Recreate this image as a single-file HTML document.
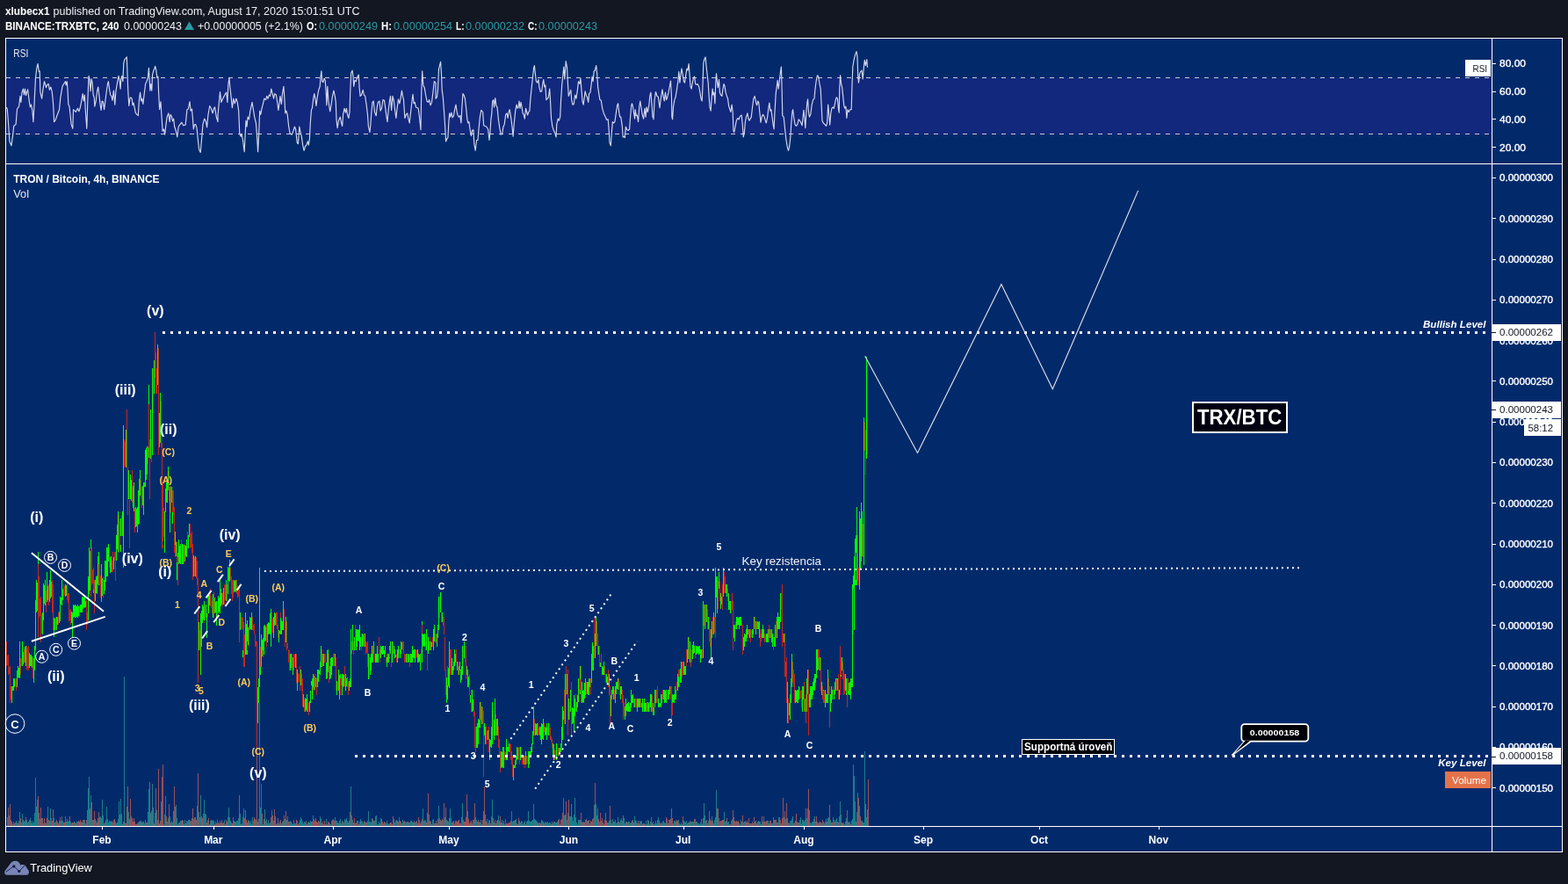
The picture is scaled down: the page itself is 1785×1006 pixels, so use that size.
<!DOCTYPE html>
<html lang="en"><head><meta charset="utf-8"><title>TRX/BTC chart</title>
<style>
html,body{margin:0;padding:0;background:#131722;}
body{width:1785px;height:1006px;overflow:hidden;position:relative;}
svg{position:absolute;left:0;top:0;display:block;font-family:'Liberation Sans', Arial, sans-serif;}
text{white-space:pre;}
</style></head><body>
<svg width="1785" height="1006" viewBox="0 0 1785 1006">
<rect x="0" y="0" width="1785" height="1006" fill="#131722"/>
<rect x="6" y="43" width="1773" height="927" fill="#022a6b"/>
<rect x="7" y="89" width="1691" height="64" fill="#12287c"/>
<path d="M8.5 930V940M10.5 928V940M14.5 938V940M17.5 936V940M18.5 934V940M19.5 936V940M21.5 934V940M22.5 924V940M24.5 936V940M25.5 926V940M27.5 935V940M28.5 934V940M30.5 933V940M31.5 936V940M32.5 935V940M33.5 933V940M34.5 931V940M36.5 937V940M37.5 934V940M38.5 936V940M39.5 925V940M40.5 885V940M41.5 918V940M42.5 910V940M44.5 925V940M45.5 932V940M47.5 931V940M49.5 937V940M51.5 936V940M52.5 937V940M54.5 918V940M56.5 934V940M57.5 920V940M58.5 931V940M61.5 931V940M62.5 936V940M63.5 935V940M65.5 935V940M69.5 934V940M70.5 929V940M71.5 934V940M75.5 935V940M77.5 935V940M78.5 934V940M80.5 935V940M81.5 937V940M83.5 936V940M84.5 935V940M87.5 935V940M88.5 935V940M93.5 936V940M96.5 933V940M97.5 937V940M100.5 897V940M101.5 884V940M103.5 905V940M105.5 933V940M108.5 932V940M109.5 934V940M114.5 929V940M115.5 931V940M116.5 910V940M117.5 928V940M118.5 937V940M120.5 933V940M121.5 918V940M122.5 932V940M123.5 936V940M124.5 934V940M125.5 934V940M126.5 935V940M128.5 936V940M129.5 933V940M131.5 935V940M132.5 937V940M134.5 932V940M135.5 912V940M136.5 927V940M137.5 909V940M138.5 926V940M139.5 938V940M141.5 770V940M146.5 924V940M149.5 929V940M154.5 938V940M157.5 936V940M159.5 934V940M162.5 935V940M163.5 935V940M164.5 937V940M165.5 933V940M167.5 936V940M168.5 924V940M169.5 898V940M171.5 925V940M172.5 923V940M173.5 892V940M176.5 925V940M178.5 922V940M179.5 933V940M183.5 912V940M186.5 938V940M187.5 927V940M188.5 906V940M190.5 935V940M191.5 931V940M193.5 929V940M195.5 934V940M196.5 936V940M199.5 918V940M200.5 916V940M201.5 931V940M203.5 936V940M205.5 934V940M209.5 938V940M210.5 933V940M212.5 934V940M213.5 935V940M214.5 933V940M217.5 934V940M218.5 931V940M220.5 932V940M222.5 930V940M224.5 917V940M226.5 924V940M227.5 930V940M228.5 905V940M231.5 926V940M232.5 910V940M233.5 926V940M234.5 927V940M236.5 933V940M239.5 934V940M241.5 934V940M242.5 933V940M243.5 934V940M245.5 935V940M247.5 933V940M251.5 936V940M255.5 933V940M259.5 930V940M260.5 919V940M261.5 930V940M262.5 934V940M263.5 936V940M266.5 934V940M268.5 935V940M269.5 934V940M270.5 934V940M271.5 931V940M273.5 926V940M275.5 937V940M276.5 930V940M277.5 920V940M282.5 933V940M284.5 936V940M285.5 934V940M287.5 930V940M288.5 934V940M291.5 933V940M293.5 935V940M295.5 800V940M296.5 919V940M297.5 892V940M299.5 938V940M301.5 921V940M302.5 934V940M303.5 932V940M305.5 933V940M306.5 937V940M307.5 936V940M309.5 922V940M311.5 934V940M315.5 937V940M317.5 937V940M318.5 935V940M320.5 937V940M321.5 935V940M324.5 932V940M326.5 933V940M327.5 929V940M329.5 935V940M330.5 934V940M331.5 935V940M332.5 937V940M333.5 938V940M335.5 937V940M336.5 937V940M338.5 934V940M340.5 936V940M341.5 933V940M342.5 930V940M343.5 932V940M344.5 935V940M345.5 937V940M346.5 935V940M347.5 936V940M350.5 936V940M351.5 935V940M353.5 934V940M356.5 928V940M363.5 935V940M364.5 929V940M365.5 932V940M368.5 938V940M371.5 932V940M375.5 937V940M376.5 938V940M377.5 934V940M379.5 932V940M381.5 930V940M382.5 934V940M383.5 934V940M385.5 937V940M387.5 932V940M388.5 937V940M390.5 935V940M391.5 936V940M392.5 932V940M393.5 933V940M394.5 931V940M396.5 936V940M399.5 895V940M401.5 933V940M402.5 936V940M404.5 937V940M406.5 934V940M407.5 934V940M410.5 932V940M411.5 934V940M412.5 935V940M415.5 935V940M416.5 936V940M418.5 934V940M419.5 923V940M420.5 935V940M421.5 935V940M422.5 936V940M424.5 932V940M426.5 934V940M427.5 929V940M428.5 928V940M429.5 938V940M430.5 938V940M431.5 935V940M433.5 931V940M436.5 937V940M438.5 936V940M439.5 937V940M440.5 934V940M441.5 937V940M442.5 938V940M443.5 937V940M449.5 936V940M450.5 934V940M451.5 933V940M454.5 930V940M456.5 935V940M457.5 937V940M458.5 933V940M459.5 935V940M461.5 935V940M462.5 936V940M463.5 935V940M465.5 936V940M466.5 936V940M467.5 934V940M468.5 934V940M469.5 935V940M472.5 936V940M474.5 934V940M477.5 933V940M481.5 920V940M482.5 934V940M483.5 933V940M486.5 925V940M488.5 927V940M490.5 935V940M492.5 933V940M493.5 932V940M495.5 937V940M497.5 937V940M499.5 917V940M500.5 931V940M504.5 933V940M506.5 930V940M508.5 933V940M510.5 935V940M512.5 920V940M513.5 931V940M514.5 936V940M516.5 934V940M518.5 934V940M526.5 914V940M527.5 933V940M534.5 937V940M537.5 937V940M539.5 933V940M541.5 930V940M542.5 933V940M543.5 935V940M546.5 936V940M547.5 933V940M548.5 938V940M554.5 932V940M555.5 937V940M556.5 933V940M559.5 929V940M560.5 910V940M562.5 936V940M564.5 937V940M566.5 933V940M567.5 928V940M568.5 934V940M571.5 933V940M572.5 937V940M574.5 938V940M575.5 932V940M577.5 937V940M580.5 936V940M582.5 923V940M583.5 935V940M585.5 934V940M587.5 932V940M589.5 938V940M592.5 936V940M593.5 934V940M594.5 935V940M595.5 938V940M597.5 934V940M599.5 935V940M600.5 934V940M601.5 923V940M602.5 934V940M603.5 935V940M604.5 935V940M605.5 934V940M606.5 933V940M607.5 915V940M608.5 932V940M610.5 934V940M613.5 936V940M614.5 936V940M617.5 934V940M620.5 935V940M621.5 936V940M622.5 936V940M623.5 935V940M624.5 937V940M625.5 936V940M626.5 936V940M629.5 937V940M630.5 935V940M631.5 935V940M632.5 936V940M633.5 936V940M634.5 935V940M636.5 932V940M637.5 938V940M639.5 932V940M641.5 908V940M642.5 928V940M645.5 933V940M646.5 925V940M648.5 929V940M649.5 929V940M651.5 930V940M652.5 934V940M653.5 927V940M654.5 908V940M655.5 930V940M656.5 936V940M657.5 938V940M658.5 933V940M659.5 933V940M660.5 933V940M662.5 935V940M666.5 933V940M668.5 934V940M670.5 933V940M671.5 937V940M675.5 931V940M676.5 916V940M678.5 915V940M679.5 928V940M682.5 935V940M684.5 934V940M686.5 936V940M692.5 936V940M693.5 934V940M695.5 933V940M696.5 937V940M697.5 932V940M699.5 935V940M700.5 933V940M701.5 937V940M702.5 936V940M703.5 930V940M705.5 936V940M706.5 933V940M707.5 931V940M708.5 934V940M710.5 931V940M711.5 937V940M712.5 935V940M714.5 936V940M715.5 935V940M716.5 935V940M717.5 937V940M719.5 934V940M722.5 929V940M724.5 934V940M725.5 937V940M728.5 934V940M729.5 935V940M730.5 934V940M734.5 938V940M735.5 934V940M736.5 938V940M738.5 934V940M739.5 938V940M740.5 935V940M743.5 935V940M744.5 938V940M745.5 937V940M746.5 934V940M747.5 937V940M748.5 933V940M749.5 930V940M753.5 937V940M754.5 935V940M755.5 934V940M756.5 936V940M759.5 932V940M760.5 937V940M762.5 933V940M767.5 934V940M768.5 934V940M772.5 933V940M774.5 938V940M775.5 936V940M776.5 938V940M778.5 934V940M779.5 935V940M781.5 934V940M783.5 936V940M786.5 935V940M787.5 935V940M788.5 935V940M789.5 935V940M791.5 932V940M792.5 935V940M793.5 935V940M794.5 937V940M795.5 937V940M796.5 938V940M797.5 936V940M799.5 938V940M801.5 914V940M802.5 928V940M803.5 934V940M805.5 937V940M806.5 934V940M810.5 929V940M813.5 933V940M815.5 899V940M818.5 931V940M819.5 935V940M821.5 934V940M824.5 924V940M825.5 935V940M826.5 934V940M828.5 936V940M829.5 935V940M830.5 938V940M832.5 934V940M833.5 932V940M837.5 935V940M841.5 936V940M842.5 938V940M843.5 933V940M844.5 935V940M846.5 936V940M847.5 935V940M851.5 936V940M853.5 937V940M855.5 937V940M859.5 935V940M863.5 934V940M864.5 935V940M865.5 935V940M868.5 935V940M869.5 929V940M871.5 935V940M873.5 934V940M874.5 934V940M878.5 937V940M879.5 937V940M880.5 930V940M882.5 933V940M884.5 936V940M885.5 936V940M886.5 930V940M887.5 930V940M889.5 937V940M892.5 930V940M894.5 932V940M898.5 937V940M899.5 934V940M900.5 934V940M901.5 932V940M902.5 929V940M903.5 937V940M905.5 934V940M907.5 935V940M909.5 936V940M910.5 933V940M911.5 930V940M912.5 937V940M913.5 933V940M915.5 935V940M916.5 933V940M918.5 931V940M922.5 936V940M923.5 937V940M924.5 935V940M925.5 935V940M927.5 929V940M928.5 935V940M932.5 936V940M934.5 936V940M935.5 937V940M937.5 935V940M938.5 937V940M940.5 932V940M943.5 930V940M945.5 933V940M948.5 930V940M949.5 933V940M951.5 933V940M952.5 931V940M953.5 935V940M955.5 929V940M956.5 912V940M957.5 927V940M960.5 936V940M961.5 938V940M963.5 931V940M965.5 935V940M967.5 935V940M969.5 934V940M970.5 932V940M971.5 870V940M972.5 883V940M973.5 912V940M975.5 924V940M976.5 902V940M978.5 917V940M980.5 934V940M981.5 934V940M983.5 936V940M984.5 855V940M986.5 930V940" stroke="#1c7e8a" stroke-width="1" fill="none" shape-rendering="crispEdges"/>
<path d="M9.5 919V940M11.5 915V940M12.5 933V940M13.5 935V940M15.5 935V940M16.5 937V940M20.5 937V940M23.5 931V940M26.5 933V940M29.5 930V940M35.5 934V940M43.5 906V940M46.5 919V940M48.5 931V940M50.5 931V940M53.5 931V940M55.5 933V940M59.5 934V940M60.5 921V940M64.5 933V940M66.5 937V940M67.5 934V940M68.5 930V940M72.5 936V940M73.5 936V940M74.5 929V940M76.5 932V940M79.5 929V940M82.5 936V940M85.5 936V940M86.5 937V940M89.5 934V940M90.5 935V940M91.5 933V940M92.5 935V940M94.5 933V940M95.5 933V940M98.5 933V940M99.5 922V940M102.5 920V940M104.5 913V940M106.5 933V940M107.5 923V940M110.5 936V940M111.5 931V940M112.5 924V940M113.5 930V940M119.5 936V940M127.5 934V940M130.5 932V940M133.5 936V940M140.5 935V940M142.5 936V940M143.5 937V940M144.5 918V940M145.5 895V940M147.5 932V940M148.5 909V940M150.5 931V940M151.5 935V940M152.5 931V940M153.5 935V940M155.5 938V940M156.5 937V940M158.5 935V940M160.5 934V940M161.5 936V940M166.5 936V940M170.5 890V940M174.5 919V940M175.5 937V940M177.5 897V940M180.5 875V940M181.5 937V940M182.5 934V940M184.5 884V940M185.5 870V940M189.5 929V940M192.5 915V940M194.5 936V940M197.5 923V940M198.5 895V940M202.5 938V940M204.5 936V940M206.5 934V940M207.5 933V940M208.5 934V940M211.5 937V940M215.5 933V940M216.5 934V940M219.5 920V940M221.5 930V940M223.5 933V940M225.5 880V940M229.5 929V940M230.5 931V940M235.5 936V940M237.5 931V940M238.5 938V940M240.5 933V940M244.5 938V940M246.5 937V940M248.5 936V940M249.5 937V940M250.5 934V940M252.5 933V940M253.5 937V940M254.5 936V940M256.5 938V940M257.5 933V940M258.5 935V940M264.5 937V940M265.5 930V940M267.5 935V940M272.5 905V940M274.5 938V940M278.5 931V940M279.5 922V940M280.5 933V940M281.5 936V940M283.5 934V940M286.5 938V940M289.5 930V940M290.5 932V940M292.5 851V940M294.5 932V940M298.5 926V940M300.5 932V940M304.5 937V940M308.5 930V940M310.5 928V940M312.5 921V940M313.5 929V940M314.5 938V940M316.5 931V940M319.5 933V940M322.5 934V940M323.5 928V940M325.5 923V940M328.5 935V940M334.5 933V940M337.5 933V940M339.5 938V940M348.5 934V940M349.5 938V940M352.5 936V940M354.5 935V940M355.5 935V940M357.5 932V940M358.5 934V940M359.5 931V940M360.5 935V940M361.5 936V940M362.5 934V940M366.5 937V940M367.5 935V940M369.5 934V940M370.5 938V940M372.5 938V940M373.5 935V940M374.5 936V940M378.5 933V940M380.5 934V940M384.5 936V940M386.5 934V940M389.5 934V940M395.5 934V940M397.5 934V940M398.5 924V940M400.5 928V940M403.5 931V940M405.5 936V940M408.5 938V940M409.5 935V940M413.5 937V940M414.5 934V940M417.5 936V940M423.5 931V940M425.5 934V940M432.5 937V940M434.5 932V940M435.5 935V940M437.5 935V940M444.5 936V940M445.5 936V940M446.5 938V940M447.5 929V940M448.5 932V940M452.5 934V940M453.5 935V940M455.5 934V940M460.5 934V940M464.5 935V940M470.5 936V940M471.5 934V940M473.5 935V940M475.5 937V940M476.5 930V940M478.5 937V940M479.5 935V940M480.5 932V940M484.5 934V940M485.5 936V940M487.5 903V940M489.5 934V940M491.5 938V940M494.5 937V940M496.5 934V940M498.5 932V940M501.5 933V940M502.5 934V940M503.5 932V940M505.5 914V940M507.5 919V940M509.5 934V940M511.5 931V940M515.5 935V940M517.5 937V940M519.5 934V940M520.5 935V940M521.5 934V940M522.5 933V940M523.5 937V940M524.5 937V940M525.5 930V940M528.5 935V940M529.5 935V940M530.5 930V940M531.5 904V940M532.5 923V940M533.5 932V940M535.5 935V940M536.5 934V940M538.5 933V940M540.5 914V940M544.5 933V940M545.5 935V940M549.5 933V940M550.5 923V940M551.5 895V940M552.5 927V940M553.5 935V940M557.5 934V940M558.5 937V940M561.5 931V940M563.5 933V940M565.5 934V940M569.5 929V940M570.5 936V940M573.5 934V940M576.5 937V940M578.5 937V940M579.5 936V940M581.5 934V940M584.5 934V940M586.5 933V940M588.5 937V940M590.5 931V940M591.5 934V940M596.5 936V940M598.5 938V940M609.5 933V940M611.5 935V940M612.5 937V940M615.5 937V940M616.5 933V940M618.5 935V940M619.5 937V940M627.5 938V940M628.5 935V940M635.5 933V940M638.5 933V940M640.5 925V940M643.5 927V940M644.5 912V940M647.5 910V940M650.5 915V940M661.5 925V940M663.5 936V940M664.5 935V940M665.5 936V940M667.5 932V940M669.5 934V940M672.5 934V940M673.5 935V940M674.5 932V940M677.5 891V940M680.5 920V940M681.5 932V940M683.5 925V940M685.5 931V940M687.5 938V940M688.5 933V940M689.5 925V940M690.5 934V940M691.5 936V940M694.5 917V940M698.5 935V940M704.5 935V940M709.5 928V940M713.5 935V940M718.5 936V940M720.5 933V940M721.5 936V940M723.5 934V940M726.5 934V940M727.5 937V940M731.5 938V940M732.5 937V940M733.5 937V940M737.5 933V940M741.5 930V940M742.5 937V940M750.5 934V940M751.5 937V940M752.5 936V940M757.5 937V940M758.5 930V940M761.5 933V940M763.5 932V940M764.5 920V940M765.5 931V940M766.5 937V940M769.5 935V940M770.5 933V940M771.5 934V940M773.5 937V940M777.5 929V940M780.5 936V940M782.5 937V940M784.5 936V940M785.5 934V940M790.5 932V940M798.5 932V940M800.5 931V940M804.5 933V940M807.5 923V940M808.5 932V940M809.5 934V940M811.5 934V940M812.5 937V940M814.5 930V940M816.5 920V940M817.5 920V940M820.5 934V940M822.5 933V940M823.5 933V940M827.5 931V940M831.5 938V940M834.5 922V940M835.5 930V940M836.5 934V940M838.5 934V940M839.5 935V940M840.5 934V940M845.5 928V940M848.5 934V940M849.5 936V940M850.5 934V940M852.5 931V940M854.5 937V940M856.5 935V940M857.5 937V940M858.5 930V940M860.5 934V940M861.5 937V940M862.5 935V940M866.5 938V940M867.5 929V940M870.5 935V940M872.5 934V940M875.5 937V940M876.5 934V940M877.5 934V940M881.5 933V940M883.5 933V940M888.5 933V940M890.5 931V940M891.5 908V940M893.5 923V940M895.5 914V940M896.5 931V940M897.5 936V940M904.5 936V940M906.5 926V940M908.5 936V940M914.5 933V940M917.5 920V940M919.5 920V940M920.5 898V940M921.5 922V940M926.5 932V940M929.5 929V940M930.5 935V940M931.5 937V940M933.5 935V940M936.5 933V940M939.5 935V940M941.5 935V940M942.5 931V940M944.5 916V940M946.5 936V940M947.5 936V940M950.5 935V940M954.5 936V940M958.5 936V940M959.5 937V940M962.5 935V940M964.5 922V940M966.5 936V940M968.5 938V940M974.5 935V940M977.5 908V940M979.5 929V940M982.5 936V940M985.5 915V940M987.5 921V940M988.5 887V940" stroke="#96525c" stroke-width="1" fill="none" shape-rendering="crispEdges"/>
<g fill="#ffffff" shape-rendering="crispEdges">
<rect x="6" y="43" width="1773" height="1"/>
<rect x="6" y="969" width="1773" height="1"/>
<rect x="6" y="43" width="1" height="927"/>
<rect x="1778" y="43" width="1" height="927"/>
<rect x="6" y="186" width="1773" height="1"/>
<rect x="6" y="940" width="1773" height="1"/>
<rect x="1698" y="43" width="1" height="927"/>
</g>
<g stroke="#c8ccdc" stroke-width="1" stroke-dasharray="5 6" shape-rendering="crispEdges">
<line x1="7" y1="88.5" x2="1698" y2="88.5"/>
<line x1="7" y1="152.5" x2="1698" y2="152.5"/>
</g>
<path d="M7.2 121.9 L8.3 124.0 L9.5 140.0 L10.9 160.9 L12.9 165.8 L14.6 153.9 L15.7 143.5 L18.1 141.4 L19.5 124.0 L21.6 121.2 L23.0 109.4 L23.9 116.4 L25.0 105.2 L26.4 101.1 L27.4 108.0 L28.5 101.1 L29.5 108.7 L31.6 101.8 L33.4 116.4 L34.4 121.9 L35.5 119.1 L36.9 126.1 L37.9 138.6 L39.0 119.1 L40.4 89.9 L41.7 78.1 L43.1 72.5 L44.3 81.6 L45.2 80.9 L45.9 105.2 L47.6 112.2 L49.0 101.1 L50.5 92.7 L52.5 99.7 L53.9 96.2 L55.2 95.5 L56.4 102.4 L57.8 99.0 L59.1 103.8 L60.1 112.2 L60.8 121.9 L61.6 138.6 L62.9 137.2 L65.4 130.3 L67.5 124.7 L68.9 110.8 L71.0 98.3 L73.1 94.8 L74.5 92.7 L75.1 96.9 L76.3 92.7 L77.0 102.4 L77.9 119.1 L79.0 121.2 L80.0 130.3 L81.1 141.4 L82.8 146.3 L83.5 124.7 L85.2 126.1 L86.3 127.5 L88.4 123.3 L89.8 126.8 L91.1 123.3 L92.5 116.4 L94.2 106.6 L95.3 115.0 L96.4 108.0 L97.4 127.5 L98.8 146.3 L99.9 113.6 L101.0 86.4 L102.0 89.9 L103.0 103.8 L104.1 89.9 L105.1 94.1 L106.2 108.0 L107.2 110.8 L107.8 121.2 L109.2 115.0 L110.6 103.8 L111.7 99.0 L113.0 109.4 L114.1 119.1 L115.1 125.4 L116.2 115.0 L117.3 115.7 L118.6 124.7 L119.7 116.4 L121.1 105.2 L122.5 95.5 L123.4 92.7 L124.5 101.1 L125.7 108.0 L126.9 109.4 L128.0 114.3 L129.4 103.1 L130.8 119.1 L131.9 103.8 L133.3 95.5 L135.0 86.4 L136.1 91.3 L137.1 101.1 L137.8 89.9 L138.9 86.4 L139.9 92.7 L140.8 71.8 L141.9 67.7 L143.3 66.3 L144.3 64.9 L145.1 85.7 L145.8 103.8 L146.8 120.5 L147.9 112.2 L148.9 110.8 L150.3 112.9 L151.0 119.8 L152.0 117.1 L153.1 121.9 L154.2 128.2 L155.9 130.3 L157.3 131.7 L158.4 113.6 L159.6 105.2 L160.7 115.0 L161.7 112.2 L162.8 118.5 L163.9 109.4 L165.6 95.5 L167.0 92.7 L168.4 88.5 L169.4 77.4 L170.1 89.9 L170.9 103.1 L171.9 95.5 L172.8 103.1 L173.5 85.7 L174.6 80.9 L175.6 78.8 L176.7 75.3 L177.8 80.2 L178.8 88.5 L179.9 87.1 L180.6 105.2 L181.6 124.7 L183.0 115.7 L183.7 127.5 L185.1 149.1 L186.5 147.0 L187.6 153.2 L189.0 141.4 L190.2 133.1 L191.8 128.9 L193.2 138.6 L194.1 130.3 L195.5 133.1 L196.5 137.9 L197.6 135.1 L198.7 144.2 L200.0 147.7 L201.8 156.0 L203.2 144.2 L204.6 142.1 L206.7 139.3 L208.7 142.8 L211.2 142.1 L212.9 124.7 L214.3 124.0 L216.0 115.7 L217.1 126.1 L218.5 124.0 L219.5 135.8 L220.3 147.0 L221.3 142.1 L222.7 141.4 L224.0 145.6 L225.4 159.5 L226.6 169.9 L228.2 173.4 L229.6 158.1 L231.0 141.4 L232.7 135.1 L234.5 138.6 L235.6 144.9 L237.0 130.3 L238.7 120.5 L240.3 123.3 L242.1 128.9 L243.5 123.3 L244.6 121.9 L246.3 133.1 L248.0 138.6 L248.0 131.7 L249.1 119.1 L250.5 104.5 L251.9 116.4 L253.6 112.2 L255.2 109.4 L256.6 106.6 L257.7 105.2 L258.9 116.4 L259.8 96.9 L260.9 88.5 L261.9 99.7 L263.0 109.4 L264.4 122.6 L265.8 112.2 L267.2 117.8 L268.9 112.2 L270.3 116.4 L271.7 126.1 L272.8 152.5 L274.2 155.3 L275.1 152.5 L276.5 159.5 L278.2 172.7 L279.3 149.8 L280.0 137.2 L281.0 144.2 L282.1 133.1 L283.5 135.8 L284.9 126.1 L287.0 116.4 L288.4 124.7 L289.7 133.1 L291.4 140.0 L292.5 153.9 L293.6 172.7 L294.6 153.9 L295.7 126.1 L296.7 130.3 L298.1 123.3 L299.5 117.8 L300.9 112.2 L302.6 113.6 L303.7 109.4 L305.1 112.2 L306.4 108.0 L307.6 109.4 L308.8 101.1 L310.2 106.6 L311.6 112.2 L312.7 106.6 L314.4 108.0 L315.5 115.0 L316.9 125.4 L318.0 117.8 L319.0 109.4 L320.4 118.5 L321.5 106.6 L322.9 98.3 L323.8 110.8 L324.8 128.9 L325.9 126.1 L327.3 131.0 L328.7 144.2 L330.1 151.8 L332.2 153.2 L333.6 149.8 L335.4 144.2 L336.6 147.0 L338.2 162.3 L339.4 163.7 L340.8 144.2 L341.9 149.8 L343.3 155.3 L344.7 165.1 L346.1 171.3 L347.5 166.5 L348.9 165.1 L350.3 160.9 L351.3 165.1 L352.4 158.1 L353.3 140.0 L354.5 124.7 L355.4 123.3 L356.5 113.6 L357.7 106.6 L358.9 112.2 L360.0 120.5 L361.4 109.4 L362.8 102.4 L364.2 98.3 L364.9 88.5 L365.9 80.9 L366.7 92.7 L368.0 93.4 L369.1 89.2 L370.2 91.3 L371.2 105.2 L371.9 119.8 L372.8 98.3 L373.9 115.0 L375.7 126.8 L377.1 119.1 L378.5 109.4 L379.9 103.1 L381.3 109.4 L382.3 116.4 L383.0 135.8 L384.1 145.6 L385.5 137.2 L387.2 133.1 L388.6 140.0 L389.7 143.5 L390.6 130.3 L392.0 123.3 L393.4 128.2 L394.4 123.3 L395.5 130.3 L396.9 134.5 L398.0 127.5 L398.7 105.2 L399.7 83.0 L401.1 80.2 L402.0 87.1 L402.7 98.3 L403.9 91.3 L405.3 92.7 L406.6 88.5 L408.3 85.1 L409.1 99.7 L410.1 109.4 L411.5 108.0 L413.2 102.4 L414.3 108.0 L415.7 109.4 L417.1 119.1 L418.5 130.3 L419.4 144.2 L421.0 150.5 L421.9 141.4 L422.9 127.5 L424.0 116.4 L425.2 115.0 L426.5 127.5 L428.2 131.7 L429.3 121.9 L430.3 116.4 L432.0 115.0 L433.1 126.1 L434.5 123.3 L435.9 113.6 L437.5 114.3 L438.6 121.9 L439.8 131.7 L441.0 138.6 L442.1 126.1 L443.5 115.0 L444.5 109.4 L445.6 125.4 L447.0 109.4 L448.4 115.0 L449.5 124.7 L450.9 134.5 L452.1 123.3 L453.5 112.9 L454.9 117.8 L456.0 112.2 L457.4 103.1 L458.5 109.4 L459.5 113.6 L460.9 134.5 L462.3 130.3 L463.7 128.9 L465.1 135.8 L466.2 140.0 L467.6 127.5 L469.0 115.0 L470.0 107.3 L471.1 117.8 L472.3 116.4 L473.4 121.9 L474.8 122.6 L476.2 123.3 L477.6 134.5 L479.0 147.7 L479.7 106.6 L480.7 80.9 L481.8 96.9 L483.2 99.7 L484.6 108.0 L486.0 115.0 L487.4 116.4 L488.7 113.6 L490.1 119.8 L491.5 116.4 L492.9 105.2 L494.3 92.7 L496.0 94.1 L496.0 112.2 L497.4 110.8 L498.5 102.4 L499.5 78.8 L500.5 74.6 L501.6 70.4 L502.5 84.4 L503.2 102.4 L504.3 110.8 L505.5 126.1 L506.4 140.0 L507.6 160.9 L508.8 158.1 L509.9 156.7 L510.9 138.6 L511.7 128.9 L512.7 133.1 L513.8 128.2 L515.1 133.8 L516.5 131.7 L517.6 124.7 L519.0 119.1 L519.9 126.1 L521.0 131.0 L522.4 133.1 L523.8 131.7 L524.9 140.0 L525.9 121.9 L526.9 106.6 L528.0 108.0 L529.4 112.2 L530.8 124.7 L531.9 135.8 L532.9 140.0 L533.9 138.6 L535.0 147.0 L536.4 154.6 L537.5 148.4 L538.9 147.7 L539.8 163.7 L541.2 171.3 L542.6 159.5 L544.0 159.5 L545.0 147.0 L546.4 133.1 L547.8 125.4 L549.6 127.5 L550.7 142.8 L552.1 143.5 L553.8 144.2 L555.6 147.0 L557.0 159.5 L557.9 151.2 L558.9 135.8 L559.7 130.3 L560.7 115.0 L561.8 113.6 L562.5 121.9 L563.8 111.5 L564.9 120.5 L566.0 121.9 L567.4 135.8 L568.8 145.6 L570.2 153.2 L571.6 152.5 L573.0 144.2 L574.2 141.4 L575.7 130.3 L577.1 128.9 L578.1 134.5 L579.2 127.5 L580.2 124.7 L581.6 133.1 L583.0 144.2 L584.1 155.3 L585.3 140.0 L586.7 126.1 L588.1 119.1 L589.2 123.3 L590.2 121.9 L591.0 115.0 L592.0 123.3 L593.0 116.4 L594.1 121.9 L595.1 128.9 L596.2 130.3 L597.3 135.1 L598.6 123.3 L599.7 127.5 L600.6 131.0 L601.8 127.5 L602.9 126.1 L603.8 113.6 L605.2 99.7 L606.6 87.1 L607.6 77.4 L608.4 74.6 L609.4 84.4 L610.4 92.7 L611.8 94.1 L612.9 90.6 L614.0 99.7 L615.3 104.5 L616.7 103.8 L617.8 95.5 L618.7 90.6 L619.9 99.0 L620.8 96.9 L621.9 113.6 L623.3 112.2 L624.3 110.8 L625.7 101.1 L626.5 113.6 L627.5 134.5 L628.9 144.2 L630.3 148.4 L631.7 151.2 L633.1 156.0 L633.8 141.4 L635.2 135.1 L636.3 137.2 L637.7 133.1 L638.6 113.6 L639.8 95.5 L641.0 84.4 L641.8 76.0 L642.8 89.9 L644.2 69.7 L645.6 77.4 L646.3 92.7 L647.3 109.4 L648.4 106.6 L649.8 102.4 L650.7 113.6 L651.9 119.1 L653.3 118.5 L654.6 108.0 L656.0 112.2 L657.4 102.4 L658.5 92.7 L659.9 95.5 L660.9 89.2 L662.0 102.4 L663.0 115.0 L664.1 119.1 L665.1 112.2 L666.1 103.8 L667.4 108.7 L668.6 110.8 L669.7 116.4 L670.6 106.6 L672.0 105.2 L673.2 95.5 L674.1 87.1 L675.1 92.7 L676.2 80.9 L677.3 80.2 L678.7 74.6 L679.7 84.4 L680.7 99.7 L681.8 106.6 L682.9 113.6 L684.3 114.3 L685.7 123.3 L687.3 128.9 L689.2 133.1 L690.8 136.5 L692.2 135.8 L693.3 149.8 L694.0 162.3 L695.3 165.8 L696.4 149.8 L697.4 138.6 L698.5 140.0 L699.9 138.6 L701.3 128.9 L702.7 119.8 L703.6 117.8 L704.7 127.5 L705.7 133.1 L706.8 133.1 L708.2 142.8 L709.2 156.0 L710.3 155.3 L711.3 156.7 L712.4 144.2 L713.8 147.7 L715.2 148.4 L716.6 147.0 L717.5 134.5 L718.7 120.5 L719.4 117.8 L720.3 120.5 L721.4 127.5 L722.6 135.1 L723.2 124.7 L724.2 131.7 L725.3 131.0 L726.6 138.6 L727.7 121.9 L728.8 115.0 L729.8 121.9 L731.2 130.3 L732.6 135.1 L734.0 123.3 L735.1 133.1 L736.1 121.9 L737.4 127.5 L738.8 119.8 L739.8 109.4 L740.9 105.2 L742.0 119.1 L743.0 133.1 L744.0 134.5 L744.0 135.8 L745.1 113.6 L746.5 104.5 L747.9 109.4 L749.3 110.1 L751.0 122.6 L752.3 112.2 L754.0 101.8 L755.1 109.4 L756.2 115.0 L757.5 105.2 L758.6 113.6 L759.7 110.8 L761.0 105.2 L762.1 99.7 L763.5 92.0 L764.5 110.8 L764.9 133.1 L765.6 135.8 L766.5 121.9 L767.9 113.6 L769.0 110.8 L770.4 102.4 L771.8 92.7 L772.8 81.6 L773.9 94.1 L774.9 85.7 L776.0 78.1 L777.1 84.4 L778.4 92.7 L779.5 94.1 L780.5 87.1 L781.9 78.1 L783.0 80.2 L784.1 72.5 L785.1 85.7 L786.0 98.3 L787.1 101.1 L788.3 94.1 L789.5 88.5 L790.6 87.1 L791.6 95.5 L792.7 96.2 L794.1 95.5 L795.8 99.0 L796.9 105.2 L798.0 112.2 L799.2 115.0 L799.9 99.7 L800.8 71.8 L801.8 67.7 L803.1 64.9 L804.1 76.0 L805.2 85.7 L806.2 94.1 L807.0 108.0 L808.0 121.9 L809.1 126.1 L810.1 112.2 L811.1 101.1 L811.9 108.0 L812.9 105.2 L813.9 117.8 L814.7 95.5 L815.5 83.7 L816.4 92.7 L817.3 99.7 L818.5 90.6 L819.4 105.2 L820.5 108.0 L821.9 109.4 L823.0 101.1 L824.0 95.5 L825.1 98.3 L826.1 105.2 L827.2 108.7 L828.5 112.2 L829.6 120.5 L831.0 124.7 L831.9 127.5 L833.1 119.1 L834.2 127.5 L834.9 148.4 L835.8 150.5 L837.0 144.2 L838.4 137.2 L839.7 134.5 L841.1 135.8 L842.5 132.4 L844.2 131.0 L845.2 141.4 L846.3 156.0 L847.3 151.2 L848.4 138.6 L849.5 133.1 L850.9 128.9 L851.8 134.5 L853.0 137.2 L854.2 135.1 L855.3 133.1 L856.4 123.3 L857.8 112.2 L859.2 109.4 L860.5 116.4 L861.6 119.8 L862.7 115.0 L863.7 116.4 L864.8 127.5 L866.0 139.3 L867.2 133.1 L868.5 130.3 L869.9 132.4 L871.3 137.2 L872.3 140.0 L873.7 133.1 L874.8 123.3 L875.8 117.1 L876.9 126.1 L877.9 124.7 L879.0 133.1 L880.1 141.4 L881.1 147.0 L882.0 127.5 L883.2 106.6 L884.3 98.3 L885.2 91.3 L886.2 101.1 L887.3 92.7 L888.3 83.0 L889.4 76.0 L890.1 99.7 L890.8 131.7 L892.2 133.1 L893.6 147.0 L895.0 159.5 L896.4 167.9 L897.5 171.3 L898.7 166.5 L899.9 155.3 L900.8 140.0 L901.9 127.5 L902.6 124.7 L903.8 134.5 L905.0 141.4 L906.4 143.5 L907.9 141.4 L909.2 135.8 L910.3 137.2 L911.7 139.3 L913.1 142.8 L914.1 133.1 L914.9 125.4 L915.9 134.5 L916.8 145.6 L917.9 127.5 L918.9 116.4 L919.6 112.9 L920.5 127.5 L921.4 133.1 L922.8 130.3 L924.2 119.1 L925.6 113.6 L927.0 112.2 L928.0 101.1 L929.1 92.7 L930.1 87.1 L930.9 85.7 L931.9 88.5 L933.0 95.5 L934.2 101.1 L935.1 119.1 L936.0 137.2 L937.2 140.0 L938.8 141.4 L940.5 143.5 L941.6 140.0 L942.7 119.1 L943.7 130.3 L944.7 142.1 L945.8 128.9 L946.9 123.3 L948.1 121.9 L949.3 123.3 L950.2 119.1 L951.3 113.6 L952.3 110.8 L953.4 112.2 L954.4 123.3 L955.2 128.2 L955.8 99.7 L956.6 85.7 L957.6 95.5 L958.7 99.7 L959.7 109.4 L960.8 120.5 L961.8 123.3 L962.9 121.2 L963.9 134.5 L965.0 124.7 L966.2 127.5 L967.6 124.7 L969.2 124.7 L969.9 99.7 L970.8 76.0 L972.2 67.7 L973.6 62.1 L975.0 58.6 L976.0 64.9 L976.7 85.7 L977.5 94.1 L978.5 84.4 L979.6 81.6 L981.0 80.2 L982.2 89.9 L983.4 76.0 L984.3 68.4 L985.4 74.6 L986.8 67.7 L987.5 76.7" stroke="#d4d8ec" stroke-width="1.15" fill="none" stroke-linejoin="round"/>
<path d="M40.5 683V740M41.5 660V697M43.5 628V642M48.5 697V722M49.5 664V706M51.5 660V689M53.5 651V685M56.5 660V685M57.5 649V681M61.5 703V725M64.5 702V717M67.5 696V709M68.5 679V707M70.5 660V689M71.5 670V683M74.5 665V679M81.5 696V709M82.5 697V725M83.5 688V703M85.5 688V703M86.5 689V703M88.5 688V703M91.5 688V697M93.5 679V697M94.5 679V693M96.5 679V692M100.5 656V706M101.5 623V675M101.5 623V640M101.5 623V676M103.5 614V628M103.5 614V639M106.5 646V675M109.5 656V675M111.5 633V665M112.5 628V646M112.5 628V640M112.5 628V666M115.5 642V685M115.5 642V685M119.5 638V672M121.5 623V656M121.5 623V640M123.5 619V638M123.5 619V639M126.5 633V651M132.5 609V638M132.5 609V629M132.5 620V638M134.5 600V628M134.5 582V624M134.5 620V628M137.5 594V610M137.5 590V610M137.5 620V628M13.5 781V800M15.5 772V786M16.5 772V782M19.5 763V782M20.5 758V772M22.5 730V772M25.5 730V758M26.5 742V756M28.5 736V754M29.5 735V758M33.5 743V760M34.5 745V758M35.5 745V758M36.5 747V760M38.5 749V777M39.5 735V763M179.5 392V438M175.5 410V448M173.5 419V510M173.5 500V518M171.5 466V509M171.5 500V522M169.5 438V460M169.5 504V521M182.5 447V504M182.5 500V504M143.5 489V509M143.5 500V532M140.5 484V509M140.5 500V631M140.5 620V646M181.5 470V509M146.5 535V568M148.5 540V568M149.5 546V570M151.5 553V578M152.5 549V582M154.5 577V600M156.5 577V606M157.5 558V597M158.5 545V596M159.5 535V564M162.5 553V575M163.5 549V586M165.5 512V554M166.5 510V546M167.5 508V540M187.5 582V629M187.5 620V628M188.5 556V583M189.5 549V572M190.5 549V572M191.5 531V558M193.5 554V606M195.5 554V572M196.5 572V596M199.5 605V629M201.5 628V660M202.5 629V640M203.5 614V640M203.5 620V642M205.5 619V639M205.5 620V642M207.5 619V639M207.5 620V642M208.5 620V639M208.5 620V642M210.5 620V639M210.5 620V638M212.5 614V634M212.5 620V634M213.5 620V624M214.5 609V624M215.5 596V611M220.5 632V640M220.5 634V656M222.5 633V640M222.5 633V656M133.5 597V625M139.5 582V610M108.5 660V684M110.5 655V676M118.5 660V676M120.5 638V662M122.5 623V656M125.5 634V652M129.5 634V648M226.5 708V740M228.5 698V760M228.5 740V768M229.5 695V736M230.5 688V709M232.5 684V706M234.5 688V703M235.5 698V726M237.5 676V698M242.5 676V703M244.5 680V698M246.5 684V712M248.5 678V698M250.5 660V698M251.5 670V690M254.5 669V688M257.5 660V684M259.5 645V676M261.5 637V662M266.5 660V674M268.5 660V674M273.5 697V717M276.5 740V748M278.5 740V754M279.5 697V745M280.5 710V745M281.5 706V730M281.5 740V745M284.5 702V717M286.5 697V717M295.5 646V760M295.5 754V782M296.5 744V768M297.5 722V759M297.5 740V754M299.5 726V745M300.5 712V745M300.5 740V745M301.5 711V730M304.5 710V731M305.5 708V722M307.5 698V722M308.5 693V736M311.5 702V726M312.5 697V712M317.5 717V731M319.5 702V722M320.5 706V722M322.5 684V717M325.5 702V731M331.5 744V760M334.5 744V760M336.5 744V760M336.5 744V759M293.5 782V823M294.5 772V800M330.5 744V763M333.5 748V768M338.5 762V786M342.5 762V777M342.5 762V780M345.5 790V805M347.5 794V810M349.5 790V810M352.5 798V810M353.5 786V800M355.5 772V796M356.5 767V782M356.5 767V780M359.5 772V782M359.5 771V780M361.5 768V782M361.5 762V780M362.5 762V776M362.5 762V774M364.5 754V768M364.5 753V765M365.5 740V759M365.5 735V758M366.5 744V759M368.5 744V758M371.5 754V773M372.5 740V768M372.5 744V772M375.5 758V773M375.5 762V772M377.5 748V768M378.5 748V758M378.5 749V758M379.5 744V758M380.5 744V758M383.5 776V791M383.5 775V780M385.5 762V786M385.5 762V780M386.5 768V796M387.5 767V780M389.5 767V791M390.5 767V782M390.5 767V780M393.5 767V786M393.5 767V780M395.5 771V780M397.5 776V786M397.5 775V780M398.5 772V782M399.5 740V782M399.5 716V780M419.5 744V773M419.5 744V772M421.5 748V768M422.5 744V763M422.5 744V762M424.5 740V754M426.5 744V754M427.5 744V754M428.5 744V754M428.5 744V754M430.5 744V754M433.5 740V748M433.5 735V749M435.5 740V745M435.5 735V744M437.5 740V748M440.5 748V759M440.5 749V759M442.5 744V754M443.5 735V749M446.5 740V754M446.5 730V749M354.5 775V780M367.5 744V758M373.5 739V765M376.5 749V772M381.5 744V758M401.5 711V740M403.5 725V740M405.5 716V740M406.5 716V736M408.5 716V730M409.5 711V740M410.5 725V736M412.5 721V736M415.5 721V736M423.5 735V754M425.5 730V744M429.5 735V754M436.5 735V744M438.5 735V744M441.5 744V754M444.5 730V744M448.5 735V744M449.5 739V749M452.5 739V754M453.5 735V749M455.5 739V749M456.5 730V744M462.5 744V754M464.5 744V754M467.5 744V754M468.5 744V754M469.5 735V754M471.5 739V749M472.5 739V754M475.5 739V754M476.5 744V754M478.5 744V763M480.5 707V754M481.5 721V736M483.5 721V736M485.5 716V740M487.5 725V744M488.5 730V740M490.5 730V740M493.5 716V740M494.5 711V730M497.5 721V736M498.5 711V726M499.5 679V717M501.5 674V697M503.5 697V708M508.5 772V780M508.5 771V800M509.5 770V796M511.5 730V780M511.5 770V783M514.5 749V768M515.5 758V768M516.5 753V763M517.5 739V758M518.5 744V754M520.5 753V763M522.5 758V768M523.5 753V763M524.5 762V777M524.5 770V777M525.5 758V774M525.5 770V773M526.5 735V768M528.5 730V749M531.5 758V768M532.5 762V780M532.5 770V782M533.5 770V782M535.5 791V800M537.5 785V810M542.5 827V851M543.5 823V851M544.5 818V847M546.5 799V828M548.5 804V824M551.5 823V837M552.5 827V847M555.5 831V842M557.5 841V865M559.5 827V851M560.5 799V847M562.5 819V842M563.5 795V837M565.5 818V837M566.5 818V837M570.5 855V874M572.5 850V874M573.5 850V874M576.5 841V865M577.5 850V865M579.5 846V856M584.5 870V888M586.5 865V874M587.5 860V870M588.5 850V865M592.5 850V865M596.5 860V870M598.5 855V870M601.5 855V874M602.5 855V870M604.5 850V860M605.5 846V856M606.5 832V847M607.5 804V837M609.5 823V837M611.5 823V837M614.5 827V837M615.5 827V842M616.5 823V847M618.5 818V842M620.5 827V837M622.5 823V842M624.5 823V837M629.5 846V860M630.5 847V865M633.5 846V865M636.5 851V860M638.5 846V856M639.5 827V851M640.5 804V842M641.5 809V819M643.5 770V824M643.5 767V790M647.5 795V819M649.5 785V810M649.5 785V790M651.5 805V824M653.5 791V833M654.5 795V815M656.5 799V810M657.5 791V805M658.5 773V799M658.5 772V790M660.5 758V790M661.5 770V785M662.5 781V800M662.5 776V790M664.5 785V800M664.5 785V790M665.5 781V795M665.5 777V790M666.5 772V791M666.5 772V790M669.5 776V791M670.5 776V791M670.5 772V790M671.5 772V782M671.5 772V782M673.5 770V777M673.5 744V777M691.5 770V777M693.5 767V785M695.5 791V815M696.5 785V796M698.5 781V796M700.5 781V800M700.5 781V790M701.5 776V786M701.5 776V790M703.5 772V782M703.5 772V785M706.5 781V796M711.5 804V819M712.5 795V815M714.5 800V810M715.5 799V810M716.5 804V810M717.5 800V810M718.5 785V805M718.5 785V790M719.5 791V800M722.5 795V805M723.5 795V805M725.5 795V810M725.5 795V810M726.5 795V805M728.5 795V805M728.5 795V805M731.5 795V810M731.5 795V810M733.5 795V810M733.5 795V810M734.5 800V810M737.5 799V810M739.5 799V805M740.5 791V805M740.5 790V805M741.5 791V810M741.5 790V805M743.5 800V814M745.5 785V805M745.5 785V790M745.5 785V805M746.5 785V800M746.5 785V800M645.5 767V790M668.5 776V790M674.5 731V763M675.5 735V763M677.5 721V749M678.5 702V735M681.5 735V745M683.5 754V759M685.5 758V768M686.5 759V768M687.5 753V768M690.5 767V777M697.5 781V790M707.5 781V790M772.5 767V782M774.5 761V770M774.5 762V777M775.5 753V770M775.5 753V777M777.5 753V766M779.5 758V768M779.5 758V768M780.5 758V768M780.5 758V768M782.5 739V754M782.5 740V754M783.5 725V750M783.5 740V750M785.5 730V754M785.5 740V754M788.5 734V750M788.5 740V750M789.5 730V744M792.5 735V744M792.5 740V745M793.5 735V744M795.5 735V744M795.5 740V745M796.5 735V744M797.5 739V754M797.5 740V754M798.5 739V748M798.5 740V749M800.5 684V748M800.5 740V749M802.5 688V716M804.5 688V708M806.5 702V716M809.5 716V750M809.5 740V749M810.5 707V726M812.5 697V722M814.5 646V726M815.5 656V680M816.5 656V698M818.5 651V670M820.5 675V693M821.5 679V688M823.5 646V679M826.5 665V675M827.5 665V679M829.5 675V694M830.5 684V694M831.5 684V698M835.5 711V726M836.5 711V730M838.5 702V716M839.5 702V712M841.5 702V716M842.5 702V712M843.5 702V712M846.5 725V740M847.5 721V736M849.5 716V730M850.5 711V726M851.5 716V722M853.5 716V726M856.5 716V726M857.5 716V722M858.5 702V716M860.5 707V722M862.5 707V716M864.5 707V726M867.5 716V726M868.5 711V726M869.5 716V726M872.5 721V731M873.5 721V731M874.5 716V731M876.5 716V726M878.5 716V731M879.5 721V736M881.5 725V736M882.5 711V736M884.5 702V726M885.5 697V716M886.5 702V716M887.5 702V716M888.5 675V708M892.5 721V731M901.5 744V770M901.5 744V782M919.5 762V770M919.5 762V790M928.5 767V770M928.5 767V777M929.5 758V770M929.5 758V772M929.5 758V772M929.5 739V767M930.5 739V762M930.5 740V763M930.5 739V757M931.5 740V762M931.5 740V758M933.5 748V762M933.5 748V763M933.5 748V763M942.5 762V770M942.5 762V796M942.5 762V800M956.5 749V791M957.5 748V770M957.5 748V768M958.5 748V762M958.5 748V763M958.5 748V763M962.5 767V770M962.5 767V786M962.5 767V786M720.5 790V800M727.5 795V805M730.5 800V805M735.5 800V810M738.5 800V810M744.5 805V814M749.5 795V805M750.5 800V805M752.5 790V805M753.5 790V800M755.5 785V796M756.5 785V800M758.5 785V800M760.5 785V796M761.5 785V796M762.5 781V790M765.5 790V814M767.5 790V800M768.5 781V796M769.5 785V796M771.5 767V786M778.5 753V768M896.5 776V823M898.5 800V814M899.5 790V819M900.5 772V800M905.5 785V800M907.5 785V800M908.5 785V800M909.5 781V796M913.5 781V810M914.5 781V796M916.5 795V810M918.5 772V810M921.5 790V805M921.5 790V800M922.5 781V805M922.5 786V800M924.5 781V796M924.5 781V791M925.5 776V791M925.5 776V791M927.5 772V786M927.5 767V781M935.5 776V791M935.5 776V791M937.5 785V796M939.5 785V805M939.5 786V796M940.5 790V800M940.5 791V800M941.5 790V800M945.5 790V810M945.5 791V800M946.5 781V800M946.5 781V796M947.5 785V796M947.5 786V796M949.5 785V796M949.5 786V796M950.5 776V790M950.5 777V786M951.5 772V786M951.5 772V786M952.5 772V786M953.5 772V786M953.5 772V786M955.5 785V796M955.5 786V796M961.5 767V782M963.5 772V786M963.5 772V791M965.5 772V790M967.5 776V791M967.5 777V791M923.5 781V796M926.5 772V785M966.5 777V791M968.5 772V796M969.5 772V782M970.5 665V782M970.5 665V670M970.5 665V730M971.5 655V670M972.5 660V717M972.5 633V670M972.5 633V717M973.5 660V666M973.5 613V665M973.5 614V665M974.5 660V666M974.5 609V629M974.5 609V629M978.5 660V670M978.5 582V670M978.5 590V671M975.5 577V665M975.5 590V666M979.5 600V646M979.5 590V647M980.5 572V639M980.5 590V610M981.5 582V610M981.5 590V633M983.5 530V643M983.5 475V535M983.5 590V643M986.5 406V522M14.5 781V786M21.5 760V771M42.5 663V695M50.5 666V687M54.5 667V683M58.5 662V679M62.5 704V717M65.5 702V711M69.5 680V688M75.5 666V678M84.5 689V702M87.5 690V702M89.5 690V701M92.5 688V697M95.5 680V691M97.5 684V691M102.5 627V672M116.5 658V678M155.5 579V599M164.5 549V554M200.5 617V633M204.5 621V641M211.5 621V633M231.5 690V705M238.5 677V689M245.5 685V697M249.5 680V696M252.5 675V688M260.5 646V661M267.5 661V673M282.5 714V734M285.5 703V716M298.5 728V747M302.5 713V729M306.5 709V721M313.5 698V711M318.5 718V721M321.5 707V717M348.5 795V808M357.5 769V785M363.5 763V767M391.5 768V781M394.5 772V781M407.5 717V729M413.5 722V735M434.5 736V744M450.5 745V748M457.5 731V739M465.5 745V753M470.5 740V748M477.5 745V753M482.5 722V735M491.5 731V736M510.5 760V781M538.5 796V809M545.5 819V828M558.5 842V850M571.5 856V873M578.5 850V855M585.5 871V874M589.5 851V864M603.5 855V860M610.5 824V836M617.5 824V841M621.5 828V836M637.5 851V856M652.5 806V823M663.5 786V799M702.5 776V784M713.5 801V809M751.5 800V804M757.5 786V799M766.5 791V799M790.5 735V743M794.5 736V743M840.5 703V711M848.5 722V730M863.5 708V716M906.5 786V799" stroke="#00ff00" stroke-width="1" fill="none" shape-rendering="crispEdges"/>
<path d="M43.5 642V725M44.5 656V703M46.5 679V731M52.5 672V697M55.5 665V689M59.5 660V697M60.5 665V717M63.5 702V718M66.5 697V711M72.5 665V679M76.5 660V683M77.5 675V686M78.5 675V707M80.5 693V711M90.5 689V702M98.5 683V717M99.5 697V711M103.5 624V679M103.5 624V666M104.5 628V665M104.5 623V639M104.5 645V666M106.5 646V671M107.5 660V697M107.5 660V698M112.5 642V665M114.5 656V679M114.5 655V680M117.5 656V679M117.5 656V680M124.5 623V646M124.5 624V639M124.5 623V646M128.5 628V651M128.5 628V640M128.5 628V646M130.5 628V638M131.5 633V661M131.5 628V660M135.5 600V628M135.5 586V629M135.5 620V628M7.5 730V758M9.5 745V768M11.5 758V800M12.5 781V796M17.5 775V781M18.5 772V786M23.5 749V768M27.5 739V754M30.5 735V763M32.5 735V763M37.5 749V772M176.5 378V430M177.5 401V448M180.5 396V509M180.5 500V518M174.5 419V470M169.5 460V509M183.5 457V509M144.5 466V509M144.5 500V532M178.5 419V448M141.5 500V532M145.5 532V586M147.5 549V624M147.5 620V623M150.5 535V572M153.5 578V606M160.5 546V567M161.5 554V578M168.5 508V528M170.5 500V568M172.5 500V526M184.5 504V624M185.5 549V616M185.5 620V624M186.5 578V611M192.5 536V570M194.5 553V583M196.5 558V583M197.5 558V586M198.5 577V629M198.5 620V628M199.5 620V634M201.5 616V640M202.5 634V666M206.5 614V639M206.5 620V642M209.5 619V639M209.5 628V642M213.5 605V624M216.5 596V624M216.5 620V624M218.5 605V629M218.5 620V628M219.5 619V640M219.5 624V660M138.5 586V610M113.5 641V666M127.5 638V651M221.5 634V656M223.5 634V658M224.5 638V666M225.5 658V760M225.5 740V777M227.5 717V740M233.5 688V709M236.5 678V702M239.5 670V690M240.5 678V692M241.5 684V698M243.5 674V703M247.5 684V702M253.5 674V690M255.5 665V688M258.5 665V684M262.5 646V660M263.5 656V676M264.5 660V684M265.5 660V680M269.5 660V676M270.5 666V680M272.5 669V731M274.5 702V716M276.5 702V717M277.5 708V749M277.5 744V759M278.5 722V759M283.5 712V736M287.5 702V717M289.5 710V722M290.5 722V736M292.5 730V760M292.5 740V851M296.5 736V759M299.5 740V748M303.5 711V736M309.5 697V722M314.5 697V712M315.5 697V716M316.5 711V726M319.5 697V703M323.5 693V717M324.5 717V736M326.5 707V740M328.5 739V754M328.5 740V754M329.5 740V760M329.5 744V763M332.5 744V760M332.5 744V759M334.5 744V763M337.5 758V760M337.5 744V777M339.5 766V777M341.5 758V786M341.5 758V780M343.5 767V786M344.5 772V804M344.5 772V780M346.5 796V810M350.5 795V810M351.5 800V814M356.5 782V791M358.5 767V786M358.5 768V780M360.5 772V791M366.5 739V758M369.5 744V754M369.5 744V754M370.5 744V754M370.5 744V754M374.5 744V777M374.5 744V776M379.5 744V758M380.5 744V758M382.5 748V786M382.5 749V780M384.5 776V786M387.5 772V791M392.5 758V782M392.5 758V780M395.5 772V782M396.5 776V791M402.5 740V745M402.5 730V744M418.5 740V759M418.5 730V758M420.5 748V773M420.5 749V768M424.5 735V744M426.5 744V754M432.5 744V754M432.5 739V754M439.5 744V754M439.5 744V754M443.5 740V748M445.5 744V759M445.5 744V759M388.5 771V780M400.5 730V744M404.5 711V740M411.5 721V740M414.5 721V736M416.5 730V744M431.5 725V744M447.5 730V744M451.5 744V754M454.5 739V744M458.5 730V740M459.5 730V744M460.5 744V754M463.5 744V754M466.5 744V759M473.5 739V749M479.5 739V754M480.5 711V721M484.5 730V740M486.5 721V763M489.5 725V740M492.5 725V736M495.5 721V732M500.5 679V703M502.5 674V708M504.5 702V712M505.5 702V722M506.5 725V749M506.5 749V763M507.5 762V780M507.5 770V791M509.5 758V780M512.5 739V768M513.5 739V768M519.5 739V754M521.5 753V768M527.5 735V754M529.5 735V754M530.5 735V772M530.5 770V773M534.5 767V780M534.5 781V791M536.5 785V810M539.5 795V815M540.5 810V851M541.5 827V856M547.5 799V819M549.5 805V824M550.5 809V884M553.5 827V847M556.5 827V856M561.5 809V837M564.5 813V837M567.5 827V851M568.5 841V860M569.5 855V879M574.5 855V865M580.5 846V856M581.5 847V865M582.5 855V870M583.5 860V884M590.5 850V865M591.5 850V870M593.5 850V860M594.5 860V870M597.5 860V874M599.5 860V870M608.5 818V837M612.5 823V837M619.5 823V833M623.5 827V837M625.5 823V837M626.5 828V842M628.5 841V851M631.5 853V865M634.5 847V860M635.5 851V860M642.5 785V824M642.5 785V790M644.5 770V791M644.5 758V790M646.5 770V837M646.5 762V790M648.5 799V819M650.5 776V837M650.5 776V790M655.5 790V809M660.5 773V785M661.5 776V800M661.5 758V790M667.5 776V785M667.5 776V790M689.5 770V777M689.5 767V777M692.5 770V782M692.5 762V781M693.5 781V791M694.5 781V824M694.5 781V790M699.5 785V796M704.5 772V785M704.5 772V785M705.5 776V791M705.5 776V790M708.5 785V800M709.5 791V819M710.5 799V815M721.5 795V805M721.5 795V805M723.5 795V805M729.5 795V805M732.5 800V810M732.5 800V810M736.5 799V810M736.5 800V810M739.5 800V810M742.5 791V805M742.5 800V810M747.5 785V800M747.5 785V790M747.5 785V800M659.5 772V790M672.5 772V790M676.5 703V749M679.5 707V735M680.5 721V745M682.5 735V759M684.5 744V759M688.5 758V768M772.5 762V770M776.5 753V770M777.5 753V768M781.5 739V758M781.5 740V758M784.5 725V750M784.5 740V750M786.5 739V758M786.5 740V759M787.5 740V754M787.5 740V754M791.5 734V748M791.5 740V749M799.5 739V748M799.5 740V749M801.5 688V712M803.5 688V708M805.5 693V716M807.5 707V730M808.5 716V736M811.5 702V722M813.5 702V720M814.5 702V726M817.5 661V693M819.5 661V684M822.5 665V694M824.5 651V675M825.5 656V675M828.5 670V684M832.5 684V698M833.5 675V694M834.5 684V740M837.5 707V716M844.5 707V712M845.5 711V745M845.5 740V745M852.5 716V726M854.5 716V731M859.5 702V716M861.5 707V716M865.5 716V736M866.5 721V730M870.5 721V731M875.5 711V726M877.5 716V726M880.5 725V740M883.5 707V726M889.5 675V694M890.5 665V736M891.5 721V731M893.5 721V770M893.5 740V768M894.5 753V770M894.5 753V763M895.5 748V770M895.5 748V800M902.5 753V770M902.5 753V777M903.5 762V770M903.5 762V782M920.5 762V770M920.5 762V837M920.5 762V785M931.5 739V749M932.5 739V758M932.5 740V754M932.5 748V763M934.5 748V770M934.5 748V782M934.5 753V786M954.5 767V770M954.5 767V796M954.5 767V796M956.5 735V770M956.5 740V790M956.5 735V791M957.5 748V768M959.5 753V770M959.5 753V772M959.5 753V773M960.5 762V770M960.5 762V777M960.5 762V791M724.5 795V805M748.5 781V800M754.5 785V796M759.5 790V796M763.5 781V796M764.5 781V818M765.5 800V814M770.5 776V786M773.5 762V782M897.5 795V823M904.5 767V800M910.5 782V796M912.5 785V805M915.5 776V810M917.5 790V823M936.5 785V796M936.5 781V796M937.5 786V800M938.5 790V800M938.5 786V800M943.5 772V790M943.5 772V791M944.5 781V828M944.5 781V800M948.5 781V790M948.5 781V791M952.5 773V786M961.5 767V790M964.5 772V805M964.5 773V800M965.5 772V786M971.5 670V721M971.5 670V722M977.5 660V666M977.5 646V665M977.5 646V661M976.5 609V661M976.5 609V661M982.5 596V634M982.5 596V634M985.5 530V540M985.5 489V535M984.5 480V513M987.5 414V517M8.5 746V757M10.5 759V767M24.5 749V758M31.5 737V761M45.5 681V701M47.5 699V721M73.5 667V678M79.5 694V706M105.5 648V664M136.5 593V626M142.5 503V530M217.5 607V623M256.5 666V683M271.5 670V679M275.5 703V715M288.5 711V717M291.5 730V735M310.5 704V720M327.5 732V738M335.5 745V759M340.5 767V776M417.5 731V743M461.5 745V753M474.5 740V748M496.5 722V731M554.5 832V842M575.5 856V865M595.5 861V869M600.5 861V869M613.5 828V836M627.5 838V844M632.5 854V864M855.5 717V725M871.5 722V730M911.5 786V795" stroke="#c4261d" stroke-width="1" fill="none" shape-rendering="crispEdges"/>
<line x1="185" y1="378.5" x2="1694" y2="378.5" stroke="#ffffff" stroke-width="3" stroke-dasharray="3 6" shape-rendering="crispEdges"/>
<line x1="404" y1="860.5" x2="1694" y2="860.5" stroke="#ffffff" stroke-width="3" stroke-dasharray="3 6" shape-rendering="crispEdges"/>
<line x1="301" y1="650" x2="1481" y2="646.3" stroke="#ffffff" stroke-width="2" stroke-dasharray="2 4"/>
<line x1="581.4" y1="841" x2="697.6" y2="673.4" stroke="#ffffff" stroke-width="2" stroke-dasharray="2 4"/>
<line x1="609.2" y1="897.6" x2="725.4" y2="729.7" stroke="#ffffff" stroke-width="2" stroke-dasharray="2 4"/>
<g stroke="#ffffff" stroke-width="2" stroke-linecap="butt">
<line x1="35.9" y1="629.2" x2="118" y2="695.7"/>
<line x1="35.9" y1="729.7" x2="119.7" y2="701.9"/>
</g>
<g stroke="#ffffff" stroke-width="2" stroke-dasharray="10.3 12.2">
<line x1="221.3" y1="698.5" x2="266.6" y2="636.4"/>
<line x1="230.1" y1="726.5" x2="274.6" y2="664.8"/>
</g>
<polyline points="984.7,405.2 1044.5,515.4 1139.9,323.4 1198.3,442.7 1295.7,216.9" stroke="#e4e6ee" stroke-width="1.1" fill="none"/>
<text x="41.7" y="593.7" font-size="16" fill="#fff" font-weight="bold" text-anchor="middle">(i)</text>
<text x="63.7" y="775.0" font-size="16" fill="#fff" font-weight="bold" text-anchor="middle">(ii)</text>
<text x="142.7" y="448.9" font-size="16" fill="#fff" font-weight="bold" text-anchor="middle">(iii)</text>
<text x="150.8" y="641.2" font-size="16" fill="#fff" font-weight="bold" text-anchor="middle">(iv)</text>
<text x="176.9" y="359.2" font-size="16" fill="#fff" font-weight="bold" text-anchor="middle">(v)</text>
<text x="187.7" y="655.6" font-size="16" fill="#fff" font-weight="bold" text-anchor="middle">(i)</text>
<text x="191.8" y="494.1" font-size="16" fill="#fff" font-weight="bold" text-anchor="middle">(ii)</text>
<text x="226.9" y="808.0" font-size="16" fill="#fff" font-weight="bold" text-anchor="middle">(iii)</text>
<text x="261.7" y="613.9" font-size="16" fill="#fff" font-weight="bold" text-anchor="middle">(iv)</text>
<text x="293.9" y="884.7" font-size="16" fill="#fff" font-weight="bold" text-anchor="middle">(v)</text>
<circle cx="57.5" cy="634.4" r="7" fill="none" stroke="#fff" stroke-width="1"/>
<text x="57.5" y="638.2" font-size="10.5" fill="#fff" font-weight="bold" text-anchor="middle">B</text>
<circle cx="73.5" cy="643.4" r="7" fill="none" stroke="#fff" stroke-width="1"/>
<text x="73.5" y="647.2" font-size="10.5" fill="#fff" font-weight="bold" text-anchor="middle">D</text>
<circle cx="47.6" cy="747.3" r="7" fill="none" stroke="#fff" stroke-width="1"/>
<text x="47.6" y="751.1" font-size="10.5" fill="#fff" font-weight="bold" text-anchor="middle">A</text>
<circle cx="63.7" cy="739.3" r="7" fill="none" stroke="#fff" stroke-width="1"/>
<text x="63.7" y="743.1" font-size="10.5" fill="#fff" font-weight="bold" text-anchor="middle">C</text>
<circle cx="84.5" cy="732.2" r="7" fill="none" stroke="#fff" stroke-width="1"/>
<text x="84.5" y="736.0" font-size="10.5" fill="#fff" font-weight="bold" text-anchor="middle">E</text>
<circle cx="17" cy="823.6" r="10.8" fill="none" stroke="#fff" stroke-width="1"/>
<text x="17.0" y="828.5" font-size="13" fill="#fff" font-weight="bold" text-anchor="middle">C</text>
<text x="191.6" y="518.4" font-size="10.5" fill="#ffcb57" font-weight="bold" text-anchor="middle">(C)</text>
<text x="188.8" y="550.4" font-size="10.5" fill="#ffcb57" font-weight="bold" text-anchor="middle">(A)</text>
<text x="215.5" y="584.9" font-size="10.5" fill="#ffcb57" font-weight="bold" text-anchor="middle">2</text>
<text x="188.8" y="644.4" font-size="10.5" fill="#ffcb57" font-weight="bold" text-anchor="middle">(B)</text>
<text x="260.3" y="634.1" font-size="10.5" fill="#ffcb57" font-weight="bold" text-anchor="middle">E</text>
<text x="249.9" y="652.0" font-size="10.5" fill="#ffcb57" font-weight="bold" text-anchor="middle">C</text>
<text x="232.2" y="667.6" font-size="10.5" fill="#ffcb57" font-weight="bold" text-anchor="middle">A</text>
<text x="226.6" y="681.3" font-size="10.5" fill="#ffcb57" font-weight="bold" text-anchor="middle">4</text>
<text x="201.9" y="692.0" font-size="10.5" fill="#ffcb57" font-weight="bold" text-anchor="middle">1</text>
<text x="252.4" y="711.9" font-size="10.5" fill="#ffcb57" font-weight="bold" text-anchor="middle">D</text>
<text x="238.5" y="739.0" font-size="10.5" fill="#ffcb57" font-weight="bold" text-anchor="middle">B</text>
<text x="286.8" y="685.3" font-size="10.5" fill="#ffcb57" font-weight="bold" text-anchor="middle">(B)</text>
<text x="316.7" y="671.8" font-size="10.5" fill="#ffcb57" font-weight="bold" text-anchor="middle">(A)</text>
<text x="224.6" y="786.7" font-size="10.5" fill="#ffcb57" font-weight="bold" text-anchor="middle">3</text>
<text x="228.8" y="790.4" font-size="10.5" fill="#ffcb57" font-weight="bold" text-anchor="middle">5</text>
<text x="277.7" y="779.7" font-size="10.5" fill="#ffcb57" font-weight="bold" text-anchor="middle">(A)</text>
<text x="293.7" y="859.3" font-size="10.5" fill="#ffcb57" font-weight="bold" text-anchor="middle">(C)</text>
<text x="352.7" y="831.5" font-size="10.5" fill="#ffcb57" font-weight="bold" text-anchor="middle">(B)</text>
<text x="504.6" y="650.3" font-size="10.5" fill="#ffcb57" font-weight="bold" text-anchor="middle">(C)</text>
<text x="418.5" y="791.8" font-size="10.5" fill="#fff" font-weight="bold" text-anchor="middle">B</text>
<text x="408.5" y="698.1" font-size="10.5" fill="#fff" font-weight="bold" text-anchor="middle">A</text>
<text x="502.5" y="670.7" font-size="10.5" fill="#fff" font-weight="bold" text-anchor="middle">C</text>
<text x="528.8" y="729.0" font-size="10.5" fill="#fff" font-weight="bold" text-anchor="middle">2</text>
<text x="509.5" y="810.3" font-size="10.5" fill="#fff" font-weight="bold" text-anchor="middle">1</text>
<text x="549.4" y="786.0" font-size="10.5" fill="#fff" font-weight="bold" text-anchor="middle">4</text>
<text x="538.7" y="864.0" font-size="10.5" fill="#fff" font-weight="bold" text-anchor="middle">3</text>
<text x="554.6" y="896.0" font-size="10.5" fill="#fff" font-weight="bold" text-anchor="middle">5</text>
<text x="604.6" y="783.1" font-size="10.5" fill="#fff" font-weight="bold" text-anchor="middle">1</text>
<text x="635.7" y="874.0" font-size="10.5" fill="#fff" font-weight="bold" text-anchor="middle">2</text>
<text x="644.4" y="735.9" font-size="10.5" fill="#fff" font-weight="bold" text-anchor="middle">3</text>
<text x="669.5" y="832.0" font-size="10.5" fill="#fff" font-weight="bold" text-anchor="middle">4</text>
<text x="673.7" y="696.0" font-size="10.5" fill="#fff" font-weight="bold" text-anchor="middle">5</text>
<text x="696.2" y="830.2" font-size="10.5" fill="#fff" font-weight="bold" text-anchor="middle">A</text>
<text x="699.4" y="756.1" font-size="10.5" fill="#fff" font-weight="bold" text-anchor="middle">B</text>
<text x="717.5" y="832.9" font-size="10.5" fill="#fff" font-weight="bold" text-anchor="middle">C</text>
<text x="724.7" y="774.8" font-size="10.5" fill="#fff" font-weight="bold" text-anchor="middle">1</text>
<text x="762.7" y="825.9" font-size="10.5" fill="#fff" font-weight="bold" text-anchor="middle">2</text>
<text x="797.4" y="678.1" font-size="10.5" fill="#fff" font-weight="bold" text-anchor="middle">3</text>
<text x="809.5" y="756.2" font-size="10.5" fill="#fff" font-weight="bold" text-anchor="middle">4</text>
<text x="818.4" y="625.8" font-size="10.5" fill="#fff" font-weight="bold" text-anchor="middle">5</text>
<text x="896.5" y="839.1" font-size="10.5" fill="#fff" font-weight="bold" text-anchor="middle">A</text>
<text x="931.5" y="718.9" font-size="10.5" fill="#fff" font-weight="bold" text-anchor="middle">B</text>
<text x="921.5" y="852.1" font-size="10.5" fill="#fff" font-weight="bold" text-anchor="middle">C</text>
<text x="844.6" y="642.6" font-size="13" fill="#f0f0f4" textLength="90.4" lengthAdjust="spacingAndGlyphs">Key rezistencia</text>
<rect x="1163.5" y="841.5" width="105" height="17" fill="#000008" stroke="#fff" stroke-width="1"/>
<text x="1166.0" y="854.0" font-size="12" fill="#fff" font-weight="bold" textLength="100.5" lengthAdjust="spacingAndGlyphs">Supportná úroveň</text>
<path d="M1403.7 858.6 L1417 843.5 L1424 843.5 Z" fill="#000008" stroke="#fff" stroke-width="1.6" stroke-linejoin="round"/>
<rect x="1413.3" y="824.2" width="76" height="19.4" rx="3.5" fill="#000008" stroke="#fff" stroke-width="1.8"/>
<path d="M1405.5 857 L1417.6 843 L1423 843 Z" fill="#000008"/>
<circle cx="1403.7" cy="859" r="1.6" fill="#fff"/>
<text x="1422.8" y="836.8" font-size="9.8" fill="#fff" font-weight="bold" textLength="56.5" lengthAdjust="spacingAndGlyphs">0.00000158</text>
<rect x="1358" y="458" width="107" height="34" fill="#000010" stroke="#fff" stroke-width="2"/>
<text x="1362.9" y="482.9" font-size="23" fill="#fff" font-weight="bold" textLength="96.4" lengthAdjust="spacingAndGlyphs">TRX/BTC</text>
<text x="1620.0" y="373.3" font-size="10.5" fill="#fff" font-weight="bold" font-style="italic" textLength="71.5" lengthAdjust="spacingAndGlyphs">Bullish Level</text>
<text x="1637.2" y="872.3" font-size="10.5" fill="#fff" font-weight="bold" font-style="italic" textLength="54.3" lengthAdjust="spacingAndGlyphs">Key Level</text>
<rect x="1645" y="878" width="52" height="19" fill="#e5734a"/>
<text x="1653.0" y="892.0" font-size="11" fill="#fff" textLength="39.0" lengthAdjust="spacingAndGlyphs">Volume</text>
<g fill="#ffffff" shape-rendering="crispEdges">
<rect x="1699" y="896" width="4" height="1"/>
<rect x="1699" y="850" width="4" height="1"/>
<rect x="1699" y="804" width="4" height="1"/>
<rect x="1699" y="757" width="4" height="1"/>
<rect x="1699" y="711" width="4" height="1"/>
<rect x="1699" y="665" width="4" height="1"/>
<rect x="1699" y="619" width="4" height="1"/>
<rect x="1699" y="572" width="4" height="1"/>
<rect x="1699" y="526" width="4" height="1"/>
<rect x="1699" y="480" width="4" height="1"/>
<rect x="1699" y="433" width="4" height="1"/>
<rect x="1699" y="387" width="4" height="1"/>
<rect x="1699" y="341" width="4" height="1"/>
<rect x="1699" y="295" width="4" height="1"/>
<rect x="1699" y="248" width="4" height="1"/>
<rect x="1699" y="202" width="4" height="1"/>
<rect x="1699" y="72" width="4" height="1"/>
<rect x="1699" y="104" width="4" height="1"/>
<rect x="1699" y="135" width="4" height="1"/>
<rect x="1699" y="167" width="4" height="1"/>
</g>
<text x="1707.0" y="900.6" font-size="11.5" fill="#fff" textLength="61.0" lengthAdjust="spacingAndGlyphs" stroke="#fff" stroke-width="0.35">0.00000150</text>
<text x="1707.0" y="854.4" font-size="11.5" fill="#fff" textLength="61.0" lengthAdjust="spacingAndGlyphs" stroke="#fff" stroke-width="0.35">0.00000160</text>
<text x="1707.0" y="808.1" font-size="11.5" fill="#fff" textLength="61.0" lengthAdjust="spacingAndGlyphs" stroke="#fff" stroke-width="0.35">0.00000170</text>
<text x="1707.0" y="761.8" font-size="11.5" fill="#fff" textLength="61.0" lengthAdjust="spacingAndGlyphs" stroke="#fff" stroke-width="0.35">0.00000180</text>
<text x="1707.0" y="715.5" font-size="11.5" fill="#fff" textLength="61.0" lengthAdjust="spacingAndGlyphs" stroke="#fff" stroke-width="0.35">0.00000190</text>
<text x="1707.0" y="669.2" font-size="11.5" fill="#fff" textLength="61.0" lengthAdjust="spacingAndGlyphs" stroke="#fff" stroke-width="0.35">0.00000200</text>
<text x="1707.0" y="622.9" font-size="11.5" fill="#fff" textLength="61.0" lengthAdjust="spacingAndGlyphs" stroke="#fff" stroke-width="0.35">0.00000210</text>
<text x="1707.0" y="576.6" font-size="11.5" fill="#fff" textLength="61.0" lengthAdjust="spacingAndGlyphs" stroke="#fff" stroke-width="0.35">0.00000220</text>
<text x="1707.0" y="530.3" font-size="11.5" fill="#fff" textLength="61.0" lengthAdjust="spacingAndGlyphs" stroke="#fff" stroke-width="0.35">0.00000230</text>
<text x="1707.0" y="484.0" font-size="11.5" fill="#fff" textLength="61.0" lengthAdjust="spacingAndGlyphs" stroke="#fff" stroke-width="0.35">0.00000240</text>
<text x="1707.0" y="437.8" font-size="11.5" fill="#fff" textLength="61.0" lengthAdjust="spacingAndGlyphs" stroke="#fff" stroke-width="0.35">0.00000250</text>
<text x="1707.0" y="391.5" font-size="11.5" fill="#fff" textLength="61.0" lengthAdjust="spacingAndGlyphs" stroke="#fff" stroke-width="0.35">0.00000260</text>
<text x="1707.0" y="345.2" font-size="11.5" fill="#fff" textLength="61.0" lengthAdjust="spacingAndGlyphs" stroke="#fff" stroke-width="0.35">0.00000270</text>
<text x="1707.0" y="298.9" font-size="11.5" fill="#fff" textLength="61.0" lengthAdjust="spacingAndGlyphs" stroke="#fff" stroke-width="0.35">0.00000280</text>
<text x="1707.0" y="252.6" font-size="11.5" fill="#fff" textLength="61.0" lengthAdjust="spacingAndGlyphs" stroke="#fff" stroke-width="0.35">0.00000290</text>
<text x="1707.0" y="206.3" font-size="11.5" fill="#fff" textLength="61.0" lengthAdjust="spacingAndGlyphs" stroke="#fff" stroke-width="0.35">0.00000300</text>
<text x="1707.0" y="76.2" font-size="11.5" fill="#fff" textLength="30.0" lengthAdjust="spacingAndGlyphs" stroke="#fff" stroke-width="0.35">80.00</text>
<text x="1707.0" y="108.1" font-size="11.5" fill="#fff" textLength="30.0" lengthAdjust="spacingAndGlyphs" stroke="#fff" stroke-width="0.35">60.00</text>
<text x="1707.0" y="140.0" font-size="11.5" fill="#fff" textLength="30.0" lengthAdjust="spacingAndGlyphs" stroke="#fff" stroke-width="0.35">40.00</text>
<text x="1707.0" y="171.9" font-size="11.5" fill="#fff" textLength="30.0" lengthAdjust="spacingAndGlyphs" stroke="#fff" stroke-width="0.35">20.00</text>
<rect x="1699" y="369" width="78" height="19" fill="#fff"/>
<rect x="1698" y="378" width="5" height="1" fill="#131722"/>
<text x="1707.0" y="382.0" font-size="11.5" fill="#131722" textLength="61.0" lengthAdjust="spacingAndGlyphs">0.00000262</text>
<rect x="1699" y="457" width="78" height="19" fill="#fff"/>
<rect x="1698" y="466" width="5" height="1" fill="#131722"/>
<text x="1707.0" y="469.9" font-size="11.5" fill="#131722" textLength="61.0" lengthAdjust="spacingAndGlyphs">0.00000243</text>
<rect x="1699" y="851" width="78" height="19" fill="#fff"/>
<rect x="1698" y="861" width="5" height="1" fill="#131722"/>
<text x="1707.0" y="864.1" font-size="11.5" fill="#131722" textLength="61.0" lengthAdjust="spacingAndGlyphs">0.00000158</text>
<rect x="1735" y="477" width="42" height="19" fill="#fff"/>
<text x="1739.5" y="490.6" font-size="11.5" fill="#131722" textLength="28.5" lengthAdjust="spacingAndGlyphs">58:12</text>
<rect x="1668" y="68" width="29" height="19" fill="#fff"/>
<text x="1676.5" y="82.0" font-size="11.5" fill="#131722" textLength="16.5" lengthAdjust="spacingAndGlyphs">RSI</text>
<g fill="#ffffff" shape-rendering="crispEdges">
<rect x="116" y="941" width="1" height="3"/>
<rect x="243" y="941" width="1" height="3"/>
<rect x="379" y="941" width="1" height="3"/>
<rect x="511" y="941" width="1" height="3"/>
<rect x="647" y="941" width="1" height="3"/>
<rect x="778" y="941" width="1" height="3"/>
<rect x="915" y="941" width="1" height="3"/>
<rect x="1051" y="941" width="1" height="3"/>
<rect x="1183" y="941" width="1" height="3"/>
<rect x="1319" y="941" width="1" height="3"/>
</g>
<text x="116.0" y="960.0" font-size="12" fill="#fff" font-weight="bold" text-anchor="middle">Feb</text>
<text x="242.8" y="960.0" font-size="12" fill="#fff" font-weight="bold" text-anchor="middle">Mar</text>
<text x="378.9" y="960.0" font-size="12" fill="#fff" font-weight="bold" text-anchor="middle">Apr</text>
<text x="510.9" y="960.0" font-size="12" fill="#fff" font-weight="bold" text-anchor="middle">May</text>
<text x="647.4" y="960.0" font-size="12" fill="#fff" font-weight="bold" text-anchor="middle">Jun</text>
<text x="777.7" y="960.0" font-size="12" fill="#fff" font-weight="bold" text-anchor="middle">Jul</text>
<text x="914.9" y="960.0" font-size="12" fill="#fff" font-weight="bold" text-anchor="middle">Aug</text>
<text x="1051.1" y="960.0" font-size="12" fill="#fff" font-weight="bold" text-anchor="middle">Sep</text>
<text x="1183.1" y="960.0" font-size="12" fill="#fff" font-weight="bold" text-anchor="middle">Oct</text>
<text x="1318.9" y="960.0" font-size="12" fill="#fff" font-weight="bold" text-anchor="middle">Nov</text>
<text x="15.3" y="65.0" font-size="12" fill="#e6e8f0" textLength="17.0" lengthAdjust="spacingAndGlyphs">RSI</text>
<text x="15.3" y="208.0" font-size="12.5" fill="#fff" font-weight="bold" textLength="166.3" lengthAdjust="spacingAndGlyphs">TRON / Bitcoin, 4h, BINANCE</text>
<text x="15.3" y="225.0" font-size="12.5" fill="#e6e8f0" textLength="17.7" lengthAdjust="spacingAndGlyphs">Vol</text>
<text x="6.0" y="17.2" font-size="13" fill="#fff" font-weight="bold" textLength="50.5" lengthAdjust="spacingAndGlyphs">xlubecx1</text>
<text x="60.5" y="17.2" font-size="13" fill="#eceef2" textLength="349.0" lengthAdjust="spacingAndGlyphs">published on TradingView.com, August 17, 2020 15:01:51 UTC</text>
<text x="6.0" y="34.3" font-size="13" fill="#fff" font-weight="bold" textLength="129.5" lengthAdjust="spacingAndGlyphs">BINANCE:TRXBTC, 240</text>
<text x="141.0" y="34.3" font-size="13" fill="#eceef2" textLength="66.0" lengthAdjust="spacingAndGlyphs">0.00000243</text>
<path d="M215.5 24.5 L221 34 L210 34 Z" fill="#2a9aa6"/>
<text x="225.0" y="34.3" font-size="13" fill="#eceef2" textLength="120.0" lengthAdjust="spacingAndGlyphs">+0.00000005 (+2.1%)</text>
<text x="349.0" y="34.3" font-size="13" fill="#fff" font-weight="bold" textLength="12.0" lengthAdjust="spacingAndGlyphs">O:</text>
<text x="363.0" y="34.3" font-size="13" fill="#2a9aa6" textLength="67.0" lengthAdjust="spacingAndGlyphs">0.00000249</text>
<text x="434.0" y="34.3" font-size="13" fill="#fff" font-weight="bold" textLength="12.0" lengthAdjust="spacingAndGlyphs">H:</text>
<text x="448.0" y="34.3" font-size="13" fill="#2a9aa6" textLength="67.0" lengthAdjust="spacingAndGlyphs">0.00000254</text>
<text x="519.0" y="34.3" font-size="13" fill="#fff" font-weight="bold" textLength="9.5" lengthAdjust="spacingAndGlyphs">L:</text>
<text x="530.0" y="34.3" font-size="13" fill="#2a9aa6" textLength="67.0" lengthAdjust="spacingAndGlyphs">0.00000232</text>
<text x="601.0" y="34.3" font-size="13" fill="#fff" font-weight="bold" textLength="10.5" lengthAdjust="spacingAndGlyphs">C:</text>
<text x="613.0" y="34.3" font-size="13" fill="#2a9aa6" textLength="67.0" lengthAdjust="spacingAndGlyphs">0.00000243</text>
<path d="M8 995.7 C5.4 995.7 4.4 992.6 6 990.4 L12.4 982 C13.8 980.2 15.8 979.7 18 979.8 C20.6 979.9 22.2 981.6 23.3 984.5 C25.2 983.7 27.8 983.9 29.1 985.6 L32.4 990.4 C33.8 992.6 32.6 995.7 30 995.7 Z" fill="#7a84b6"/>
<polyline points="6.9,992.2 15.8,985.8 21.8,991.5 27.9,985.1" stroke="#15275c" stroke-width="1" fill="none"/>
<circle cx="15.8" cy="985.8" r="1.6" fill="#10193a"/><circle cx="21.8" cy="991.5" r="1.6" fill="#10193a"/>
<text x="34.3" y="991.8" font-size="13" fill="#fff" textLength="70.6" lengthAdjust="spacingAndGlyphs">TradingView</text>
</svg>
</body></html>
